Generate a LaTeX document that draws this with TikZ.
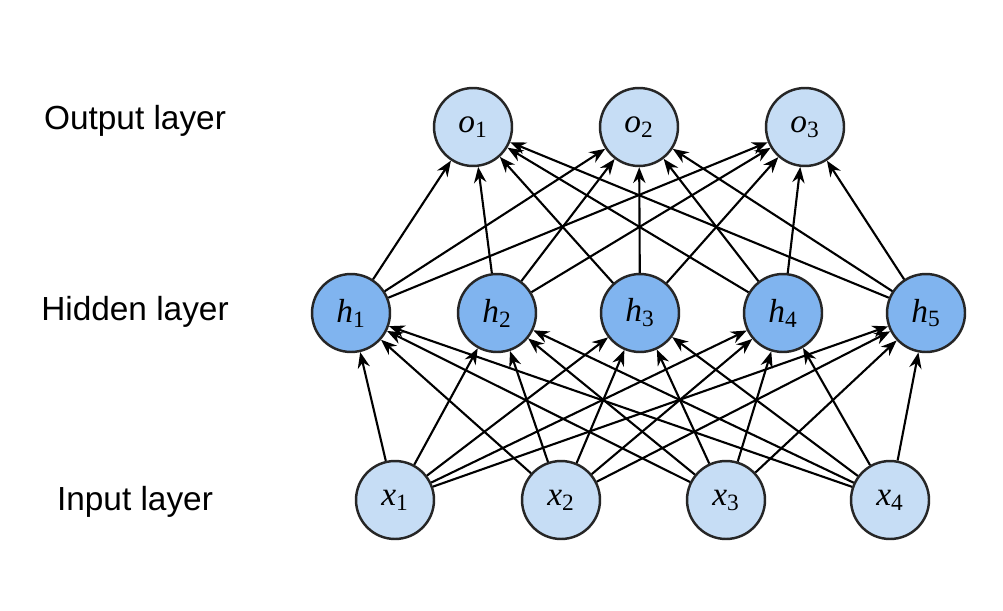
\documentclass[tikz,border=0pt]{standalone}
\usepackage{fontspec}
\setmainfont{Liberation Serif}
\newfontfamily\lab{Liberation Sans}
\usetikzlibrary{arrows.meta}
\begin{document}
\begin{tikzpicture}[x=0.02cm,y=-0.02cm,
  neuron/.style={circle,draw=black!85,line width=1.4pt,minimum size=1.56cm,inner sep=0pt,font=\fontsize{19}{19}\selectfont\itshape},
  light/.style={neuron,fill={rgb,255:red,198;green,221;blue,245}},
  dark/.style={neuron,fill={rgb,255:red,128;green,180;blue,239}},
  edge/.style={-{Stealth[length=9pt,width=7pt]},line width=1.2pt},
  lbl/.style={font=\lab\fontsize{19}{19}\selectfont}]
\useasboundingbox[fill=white] (0,0) rectangle (1003,611);
\node[lbl] (lo) at (135,121) {Output layer};
\node[lbl] (lh) at (135,312) {Hidden layer};
\node[lbl] (li) at (135,502) {Input layer};
\foreach \i/\x in {1/473,2/639,3/805} \node[light] (o\i) at (\x,127) {o\textsubscript{\upshape\i}};
\foreach \i/\x in {1/351,2/497,3/640,4/783,5/926} \node[dark] (h\i) at (\x,313) {h\textsubscript{\upshape\i}};
\foreach \i/\x in {1/395,2/561,3/726,4/890} \node[light] (x\i) at (\x,500) {x\textsubscript{\upshape\i}};
\foreach \i in {1,...,4} \foreach \j in {1,...,5} \draw[edge] (x\i) -- (h\j);
\foreach \i in {1,...,5} \foreach \j in {1,...,3} \draw[edge] (h\i) -- (o\j);
\end{tikzpicture}
\end{document}
